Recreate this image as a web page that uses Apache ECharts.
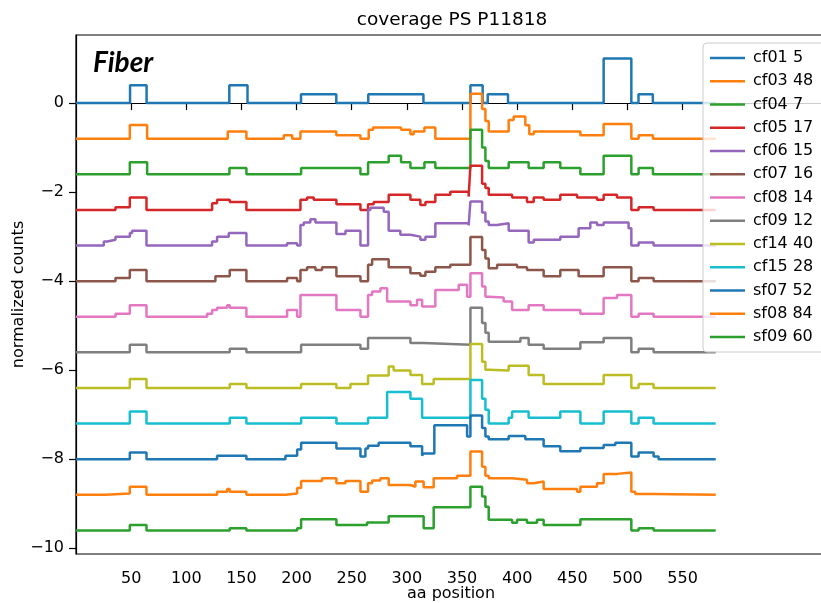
<!DOCTYPE html>
<html>
<head>
<meta charset="utf-8">
<script src="https://cdn.jsdelivr.net/npm/echarts@6/dist/echarts.min.js"></script>
<style>html,body{margin:0;padding:0;background:#fff}#c{width:821px;height:603px}</style>
</head>
<body>
<div id="c"></div>
<script>
// ---- data (x = aa position where a step starts, y = normalized count incl. offset) ----
const seriesNames = ['cf01 5','cf03 48','cf04 7','cf05 17','cf06 15','cf07 16','cf08 14','cf09 12','cf14 40','cf15 28','sf07 52','sf08 84','sf09 60'];
const xTicks = [50,100,150,200,250,300,350,400,450,500,550];
const yTicks = [-10,-8,-6,-4,-2,0];

const cf01 = [[0,0],[49,0.4],[64,0],[139,0.4],[155.5,0],[204,0.2],[236,0],[265,0.2],[315,0],[357.6,0.4],[368.7,0],[373.3,0.2],[391.7,0],[478.4,1.0],[503.5,0],[510,0.2],[523,0],[580,0]];
const cf03 = [[0,-0.8],[48.8,-0.49],[64.5,-0.8],[137.6,-0.64],[154.5,-0.8],[188.4,-0.72],[196,-0.8],[203.5,-0.64],[236,-0.72],[257.9,-0.8],[265.4,-0.6],[269.4,-0.55],[294.7,-0.6],[303.2,-0.7],[306.2,-0.64],[315.9,-0.55],[325.8,-0.8],[357.6,0.21],[368.2,-0.13],[371.2,-0.4],[374.2,-0.64],[392.3,-0.38],[396.8,-0.3],[407.4,-0.5],[411,-0.7],[415,-0.64],[457.3,-0.72],[478.4,-0.47],[503.5,-0.8],[510.1,-0.72],[523.1,-0.8],[580,-0.8]];
const cf04 = [[0,-1.6],[48.8,-1.33],[64.5,-1.6],[139.1,-1.46],[154.5,-1.6],[204.1,-1.46],[257.9,-1.6],[264.8,-1.33],[283.5,-1.18],[294.7,-1.33],[303.2,-1.46],[315.9,-1.33],[325.8,-1.46],[357.6,-0.6],[368.2,-1.0],[371.2,-1.3],[374.2,-1.46],[392.3,-1.33],[410.4,-1.46],[424,-1.33],[439.1,-1.46],[457.3,-1.6],[478.4,-1.18],[503.5,-1.6],[510.1,-1.46],[523.1,-1.6],[580,-1.6]];
const cf05 = [[0,-2.4],[35.8,-2.34],[48.8,-2.12],[63.9,-2.4],[123.4,-2.25],[127.9,-2.17],[139.4,-2.22],[154.5,-2.4],[203.5,-2.17],[209.5,-2.12],[215.5,-2.17],[236.1,-2.27],[257.9,-2.4],[264.8,-2.27],[269.9,-2.22],[283.5,-2.06],[303.2,-2.17],[312.2,-2.29],[316.8,-2.22],[325.8,-2.06],[339.4,-1.99],[356,-2.1],[357.6,-1.41],[368.2,-1.81],[371.2,-1.91],[374.2,-2.06],[395.4,-2.12],[408.9,-2.22],[415,-2.12],[424,-2.17],[439.1,-2.06],[454.3,-2.12],[472.4,-2.17],[478.4,-2.06],[490.5,-2.12],[503.5,-2.4],[510.1,-2.34],[523.7,-2.4],[580,-2.4]];
const cf06 = [[0,-3.2],[25.2,-3.11],[28.3,-3.07],[35.8,-3.0],[48.8,-2.92],[50.9,-2.87],[63.9,-3.2],[123.4,-3.11],[127.9,-3.0],[138.5,-2.92],[154.5,-3.2],[191.4,-3.15],[200.5,-3.2],[203.5,-2.74],[206.5,-2.68],[212.5,-2.61],[217.1,-2.68],[236.1,-2.94],[244.3,-2.87],[257.9,-3.2],[264.8,-2.4],[266.9,-2.35],[279,-2.44],[283.5,-2.87],[294.1,-2.96],[303.2,-3.0],[312.2,-3.07],[316.8,-3.0],[325.8,-2.7],[356,-2.75],[357.6,-2.21],[368.2,-2.46],[371.2,-2.66],[374.2,-2.74],[381.8,-2.7],[392.3,-2.87],[410.4,-3.13],[415,-3.07],[439.1,-3.0],[455.7,-2.81],[466.3,-2.68],[472.4,-2.74],[478.4,-2.68],[501,-2.81],[503.5,-3.2],[510.1,-3.13],[523.7,-3.2],[580,-3.2]];
const cf07 = [[0,-4.0],[35.8,-3.93],[48.8,-3.75],[63.9,-4.0],[126.4,-3.89],[139.4,-3.75],[154.5,-4.0],[191.4,-3.93],[200.5,-4.0],[203.5,-3.75],[209.5,-3.69],[217.1,-3.75],[223.1,-3.69],[236.1,-3.89],[257.9,-4.0],[264.8,-3.63],[268.5,-3.51],[283.5,-3.69],[303.2,-3.82],[312.2,-3.88],[316.8,-3.79],[325.8,-3.69],[339.4,-3.63],[357.6,-3.01],[368.2,-3.3],[371.2,-3.49],[374.2,-3.71],[381.8,-3.63],[399.9,-3.69],[408.9,-3.75],[424,-3.89],[439.1,-3.75],[455.7,-3.89],[478.4,-3.69],[503.5,-4.0],[510.1,-3.93],[523.7,-4.0],[580,-4.0]];
const cf08 = [[0,-4.8],[35.8,-4.73],[48.8,-4.54],[63.9,-4.8],[118.9,-4.73],[123.4,-4.65],[127.9,-4.6],[137,-4.54],[139.4,-4.6],[154.5,-4.8],[191.4,-4.65],[200.5,-4.8],[203.5,-4.31],[236.1,-4.65],[257.9,-4.8],[264.8,-4.31],[268.5,-4.23],[276,-4.16],[282.1,-4.46],[303.2,-4.54],[309.2,-4.42],[313.8,-4.57],[325.8,-4.2],[347,-4.08],[354.6,-4.35],[357.6,-3.82],[368.2,-4.12],[371.2,-4.35],[374.2,-4.37],[387.7,-4.46],[395.4,-4.65],[410.4,-4.54],[424,-4.65],[457.3,-4.73],[478.4,-4.38],[490.5,-4.31],[503.5,-4.8],[510.1,-4.73],[523.7,-4.8],[580,-4.8]];
const cf09 = [[0,-5.6],[48.8,-5.43],[63.9,-5.6],[139.4,-5.52],[154.5,-5.6],[204.1,-5.43],[257.9,-5.52],[264.8,-5.28],[303.2,-5.39],[315.2,-5.43],[357.6,-4.6],[368.2,-4.94],[371.2,-5.16],[374.2,-5.36],[402.9,-5.28],[410.4,-5.43],[424,-5.52],[457.3,-5.37],[478.4,-5.28],[503.5,-5.6],[510.1,-5.52],[523.7,-5.6],[580,-5.6]];
const cf14 = [[0,-6.4],[48.8,-6.2],[63.9,-6.4],[139.4,-6.31],[154.5,-6.4],[204.1,-6.31],[236.1,-6.4],[248.8,-6.31],[264.8,-6.12],[283.5,-5.92],[288,-6.01],[303.2,-6.11],[313.8,-6.31],[324.3,-6.2],[357.6,-5.41],[368.2,-5.81],[371.2,-5.99],[374.2,-6.01],[392.3,-5.9],[410.4,-6.11],[424,-6.31],[478.4,-6.11],[503.5,-6.4],[510.1,-6.31],[523.7,-6.4],[580,-6.4]];
const cf15 = [[0,-7.2],[48.8,-6.93],[63.9,-7.2],[139.4,-7.07],[154.5,-7.2],[204.1,-7.07],[236.1,-7.2],[264.8,-7.07],[282.1,-6.49],[303.2,-6.64],[313.8,-7.07],[357.6,-6.22],[368.2,-6.64],[371.2,-6.89],[374.2,-7.2],[392.3,-7.07],[395.4,-6.93],[410.4,-7.07],[439.1,-6.93],[457.3,-7.2],[478.4,-6.93],[503.5,-7.2],[510.1,-7.07],[523.7,-7.2],[580,-7.2]];
const sf07 = [[0,-8.0],[48.8,-7.85],[63.9,-8.0],[127.9,-7.92],[154.5,-8.0],[189.9,-7.92],[200.5,-7.78],[204.1,-7.63],[236.1,-7.76],[257.9,-7.94],[262.4,-7.76],[264.8,-7.7],[274.4,-7.63],[303.2,-7.71],[313.8,-7.92],[315.2,-7.87],[324.9,-7.24],[354.6,-7.49],[357.6,-7.02],[368.2,-7.3],[371.2,-7.49],[374.2,-7.55],[392.3,-7.48],[407.4,-7.55],[424,-7.71],[439.1,-7.82],[457.3,-7.75],[478.4,-7.68],[489,-7.63],[503.5,-7.94],[510.1,-7.85],[523.7,-7.94],[528.2,-8.0],[580,-8.0]];
const sf08 = [[0,-8.8],[26.7,-8.77],[48.8,-8.62],[63.9,-8.8],[127.9,-8.73],[137,-8.67],[139.4,-8.73],[154.5,-8.8],[189.9,-8.77],[200.5,-8.65],[204.1,-8.49],[223.1,-8.43],[236.1,-8.54],[244.3,-8.49],[257.9,-8.73],[264.8,-8.54],[268.5,-8.48],[276,-8.43],[283.5,-8.58],[303.2,-8.62],[307.7,-8.5],[315.2,-8.63],[324.3,-8.43],[345.5,-8.37],[357.6,-7.83],[368.2,-8.17],[371.2,-8.37],[374.2,-8.43],[395.4,-8.46],[408.9,-8.54],[415,-8.5],[424,-8.67],[454.3,-8.73],[457.3,-8.62],[472.4,-8.54],[478.4,-8.33],[490.5,-8.3],[503.5,-8.73],[507.1,-8.78],[523.7,-8.8],[580,-8.8]];
const sf09 = [[0,-9.6],[48.8,-9.48],[63.9,-9.6],[139.4,-9.55],[154.5,-9.6],[200.5,-9.55],[204.1,-9.35],[236.1,-9.48],[263.9,-9.42],[283.5,-9.28],[315.2,-9.55],[324.3,-9.08],[357.6,-8.62],[368.2,-8.84],[371.2,-9.07],[374.2,-9.36],[395.4,-9.43],[399.9,-9.36],[408.9,-9.43],[418,-9.36],[424,-9.48],[457.3,-9.35],[503.5,-9.6],[510.1,-9.55],[523.7,-9.6],[580,-9.6]];

const allData = [cf01,cf03,cf04,cf05,cf06,cf07,cf08,cf09,cf14,cf15,sf07,sf08,sf09];
const palette = ['#1f77b4','#ff7f0e','#2ca02c','#d62728','#9467bd','#8c564b','#e377c2','#7f7f7f','#bcbd22','#17becf','#1f77b4','#ff7f0e','#2ca02c'];

const FONT = 'DejaVu Sans';
const chart = echarts.init(document.getElementById('c'), null, {renderer: 'canvas'});
chart.setOption({
  animation: false,
  backgroundColor: '#ffffff',
  grid: {left: 76, top: 35, right: -5, bottom: 49, containLabel: false, outerBoundsMode: 'none',
    show: true, borderColor: '#000', borderWidth: 1.2, backgroundColor: 'transparent'},
  graphic: [
    {type: 'text', x: 452, y: 20, style: {text: 'coverage PS P11818', font: '18.5px "DejaVu Sans"', fill: '#000', align: 'center', verticalAlign: 'middle'}},
    {type: 'text', x: 93, y: 63, z: 10, style: {text: 'Fiber', font: 'italic bold 28px Lato', fill: '#000', align: 'left', verticalAlign: 'middle'}}
  ],
  legend: {
    orient: 'vertical', left: 703, top: 43, padding: [7, 4, 7, 7],
    itemWidth: 35, itemHeight: 2.6, itemGap: 7.25, icon: 'rect',
    backgroundColor: 'rgba(255,255,255,0.8)', borderColor: '#cccccc', borderWidth: 1, borderRadius: 4,
    selectedMode: false,
    textStyle: {fontFamily: FONT, fontSize: 16, color: '#000', lineHeight: 16, width: 85, padding: [0,0,0,3]},
    data: seriesNames
  },
  xAxis: {
    type: 'value', min: 0, max: 680,
    name: 'aa position', nameLocation: 'middle', nameGap: 32, nameMoveOverlap: false,
    nameTextStyle: {fontFamily: FONT, fontSize: 16, color: '#000'},
    axisLine: {show: true, lineStyle: {color: '#000', width: 1.2}},
    axisTick: {show: true, length: 7, lineStyle: {color: '#000', width: 1.2}, customValues: xTicks},
    axisLabel: {fontFamily: FONT, fontSize: 16, color: '#000', margin: 17, customValues: xTicks},
    splitLine: {show: false}
  },
  yAxis: {
    type: 'value', min: -10.13, max: 1.53,
    name: 'normalized counts', nameLocation: 'middle', nameGap: 49, nameMoveOverlap: false,
    nameTextStyle: {fontFamily: FONT, fontSize: 16, color: '#000'},
    axisLine: {show: true, lineStyle: {color: '#000', width: 1.2}},
    axisTick: {show: true, length: 7, lineStyle: {color: '#000', width: 1.2}, customValues: yTicks},
    axisLabel: {fontFamily: FONT, fontSize: 16, color: '#000', margin: 12, customValues: yTicks,
      formatter: v => (v < 0 ? '\u2212' + Math.abs(v) : String(v))},
    splitLine: {show: false}
  },
  series: allData.map((d, i) => ({
    name: seriesNames[i], type: 'line', step: 'end', data: d,
    symbol: 'none', showSymbol: false,
    lineStyle: {color: palette[i], width: 2.5},
    itemStyle: {color: palette[i]},
    z: 2 + i * 0.01
  }))
});
</script>
</body>
</html>
